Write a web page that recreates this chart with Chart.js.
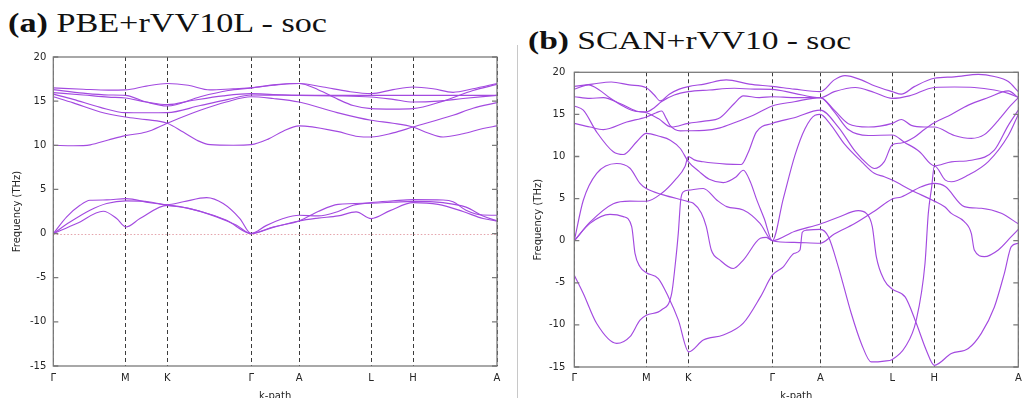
<!DOCTYPE html>
<html><head><meta charset="utf-8">
<script src="https://cdn.jsdelivr.net/npm/chart.js@4.4.1/dist/chart.umd.min.js"></script>
<style>
html,body{margin:0;padding:0;width:1022px;height:398px;overflow:hidden;background:#fff;}
canvas{position:absolute;top:0;}
#ca{left:0px}
#cb{left:518px}
.ttl{position:absolute;white-space:nowrap;font-family:"Liberation Serif","Times New Roman",serif;color:#111;line-height:1;transform-origin:0 0;}
#sep{position:absolute;left:517px;top:45px;width:1px;height:353px;background:#c8c8c8;}
</style></head><body>
<div id="ta" class="ttl"><b>(a)</b> PBE+rVV10L - soc</div>
<div id="tb" class="ttl"><b>(b)</b> SCAN+rVV10 - soc</div>
<div id="sep"></div>
<canvas id="ca" width="516" height="406"></canvas>
<canvas id="cb" width="504" height="406"></canvas>
<script>
// high-symmetry path
const kPos = [0, 0.72, 1.14, 1.98, 2.46, 3.18, 3.60, 4.44];
const kLabels = ['Γ', 'M', 'K', 'Γ', 'A', 'L', 'H', 'A'];

// (a) PBE+rVV10L bands: [k, THz]
const pbe1 = [[0,16.5],[0.3,16.35],[0.55,16.25],[0.72,16.27],[0.93,16.7],[1.14,17.0],[1.35,16.8],[1.567,16.27],[1.8,16.4],[1.98,16.5],[2.2,16.8],[2.46,17.0],[2.7,16.6],[2.95,16.1],[3.18,15.85],[3.4,16.3],[3.6,16.6],[3.8,16.4],[4.0,16.0],[4.2,16.4],[4.44,17.0]];
const pbe2 = [[0,16.3],[0.3,15.9],[0.55,15.7],[0.72,15.66],[0.93,14.9],[1.14,14.45],[1.47,15.5],[1.75,16.2],[1.98,16.5],[2.2,16.85],[2.46,17.0],[2.65,16.3],[2.85,15.2],[3.0,14.5],[3.18,14.15],[3.4,14.1],[3.6,14.15],[3.9,15.0],[4.2,16.2],[4.44,16.9]];
const pbe3 = [[0,15.96],[0.3,15.7],[0.55,15.45],[0.72,15.36],[0.93,14.9],[1.14,14.6],[1.4,15.1],[1.7,15.6],[1.98,15.85],[2.2,15.75],[2.46,15.66],[2.8,15.66],[3.18,15.66],[3.6,15.66],[4.0,15.66],[4.44,15.66]];
const pbe4 = [[0,15.8],[0.2,15.2],[0.47,14.3],[0.72,13.7],[0.93,13.68],[1.14,13.7],[1.47,14.5],[1.75,15.2],[1.98,15.7],[2.2,15.68],[2.46,15.66],[2.8,15.6],[3.18,15.47],[3.4,15.2],[3.6,14.9],[3.85,15.0],[4.1,15.3],[4.44,15.66]];
const pbe5 = [[0,10.0],[0.2,9.95],[0.37,10.05],[0.55,10.6],[0.72,11.1],[0.93,11.5],[1.14,12.5],[1.47,13.96],[1.73,14.9],[1.98,15.5],[2.2,15.3],[2.46,14.9],[2.84,13.7],[3.18,12.83],[3.4,12.5],[3.6,12.07],[3.75,11.4],[3.9,10.94],[4.1,11.3],[4.3,11.9],[4.44,12.2]];
const pbe6 = [[0,15.5],[0.2,14.8],[0.47,13.77],[0.72,13.2],[0.93,12.9],[1.14,12.5],[1.3,11.5],[1.45,10.5],[1.57,10.07],[1.8,10.0],[1.98,10.07],[2.15,10.7],[2.3,11.6],[2.46,12.2],[2.84,11.57],[3.05,11.0],[3.18,10.94],[3.4,11.4],[3.6,12.07],[4.0,13.4],[4.2,14.2],[4.44,14.83]];
const pbe7 = [[0,0],[0.134,1.9],[0.267,3.2],[0.367,3.77],[0.534,3.81],[0.727,3.96],[0.967,3.5],[1.14,3.28],[1.3,3.6],[1.534,4.07],[1.70,3.4],[1.867,1.7],[1.98,0],[2.13,0.9],[2.3,1.7],[2.46,2.08],[2.65,2.0],[2.85,2.5],[3.0,3.2],[3.18,3.5],[3.4,3.7],[3.6,3.85],[3.9,3.8],[4.0,3.6],[4.13,2.64],[4.3,2.1],[4.44,2.08]];
const pbe8 = [[0,0],[0.167,1.3],[0.367,2.64],[0.534,3.4],[0.727,3.7],[0.967,3.58],[1.14,3.2],[1.367,2.83],[1.634,1.89],[1.834,0.94],[1.98,0],[2.2,0.75],[2.46,1.43],[2.65,2.5],[2.85,3.3],[3.18,3.45],[3.4,3.55],[3.6,3.65],[3.9,3.5],[4.13,3.0],[4.3,2.0],[4.44,1.43]];
const pbe9 = [[0,0],[0.234,1.13],[0.5,2.53],[0.634,1.7],[0.727,0.75],[0.867,1.7],[1.14,3.2],[1.467,2.53],[1.734,1.5],[1.98,0],[2.2,0.7],[2.46,1.43],[2.65,1.75],[2.85,2.0],[3.03,2.45],[3.18,1.7],[3.37,2.6],[3.6,3.5],[3.85,3.3],[4.1,2.5],[4.3,1.7],[4.44,1.43]];

// (b) SCAN+rVV10 bands: [k, THz]
const scan1 = [[0,18.33],[0.18,18.6],[0.37,18.85],[0.55,18.5],[0.72,18.17],[0.8,17.3],[0.86,16.6],[0.95,17.4],[1.05,18.0],[1.14,18.3],[1.3,18.6],[1.52,19.1],[1.75,18.6],[1.98,18.33],[2.2,18.0],[2.46,17.7],[2.6,19.1],[2.707,19.6],[2.87,19.1],[3.0,18.4],[3.18,17.7],[3.27,17.4],[3.4,18.3],[3.6,19.3],[3.8,19.45],[4.04,19.76],[4.2,19.5],[4.34,18.9],[4.44,17.7]];
const scan2 = [[0,17.98],[0.14,18.5],[0.25,17.9],[0.35,17.0],[0.5,15.9],[0.62,15.35],[0.72,15.3],[0.8,15.8],[0.87,16.5],[1.0,17.3],[1.14,17.7],[1.35,17.9],[1.6,18.1],[1.8,18.0],[1.98,17.98],[2.2,17.5],[2.46,17.0],[2.6,17.7],[2.81,18.2],[3.0,17.6],[3.18,16.9],[3.35,17.2],[3.6,18.2],[3.8,18.25],[4.0,18.2],[4.2,17.9],[4.34,17.5],[4.44,17.0]];
const scan3 = [[0,17.1],[0.157,16.9],[0.29,17.0],[0.457,16.3],[0.62,15.4],[0.72,15.2],[0.84,14.5],[0.97,13.5],[1.14,13.94],[1.3,14.2],[1.457,14.6],[1.6,16.3],[1.69,17.2],[1.85,17.0],[1.98,17.1],[2.2,17.0],[2.46,17.0],[2.6,15.5],[2.74,13.9],[2.94,13.5],[3.18,13.94],[3.27,14.4],[3.37,13.7],[3.5,13.5],[3.6,13.5],[3.8,12.5],[3.97,12.16],[4.1,12.6],[4.24,14.3],[4.36,16.0],[4.44,17.0]];
const scan4 = [[0,16.0],[0.09,15.5],[0.224,12.9],[0.39,10.56],[0.49,10.24],[0.624,11.75],[0.72,12.74],[0.85,12.4],[0.96,11.94],[1.06,10.95],[1.14,9.4],[1.25,8.2],[1.35,7.3],[1.49,6.9],[1.62,7.6],[1.69,8.37],[1.76,7.0],[1.82,5.0],[1.9,2.6],[1.98,0],[2.09,5.0],[2.207,10.16],[2.307,13.3],[2.407,14.9],[2.46,15.0],[2.55,14.0],[2.707,11.4],[2.874,9.37],[3.0,8.0],[3.1,7.6],[3.18,7.2],[3.37,6.0],[3.6,4.7],[3.707,4.0],[3.77,3.25],[3.9,2.26],[3.97,0.87],[4.0,-1.1],[4.1,-1.9],[4.24,-1.1],[4.37,0.48],[4.44,1.35]];
const scan5 = [[0,13.93],[0.157,13.5],[0.29,13.2],[0.524,14.1],[0.72,14.7],[0.82,15.2],[0.873,15.4],[0.92,14.5],[0.957,13.7],[1.06,13.05],[1.14,13.06],[1.3,13.1],[1.457,13.4],[1.6,14.0],[1.79,14.9],[1.98,16.0],[2.2,16.5],[2.46,17.0],[2.6,15.3],[2.74,13.2],[2.94,12.5],[3.18,12.55],[3.3,11.7],[3.45,10.6],[3.6,8.9],[3.77,9.37],[3.97,9.56],[4.2,10.75],[4.34,13.7],[4.44,15.5]];
const scan6 = [[0,0],[0.09,4.8],[0.224,8.0],[0.424,9.17],[0.557,8.6],[0.657,6.8],[0.72,6.19],[0.89,5.44],[1.14,4.64],[1.19,4.44],[1.27,3.3],[1.32,1.67],[1.37,-1.1],[1.457,-2.3],[1.59,-3.3],[1.69,-2.3],[1.86,0.28],[1.92,0.4],[1.98,0],[2.2,1.1],[2.46,1.98],[2.64,2.78],[2.84,3.57],[2.92,3.25],[2.98,1.67],[3.02,-1.9],[3.1,-4.7],[3.18,-5.75],[3.31,-6.7],[3.42,-9.8],[3.52,-13.0],[3.6,-14.8],[3.77,-13.4],[3.94,-12.8],[4.07,-11.0],[4.2,-7.9],[4.3,-3.9],[4.37,-0.7],[4.44,-0.3]];
const scan7 = [[0,0],[0.157,2.2],[0.39,4.4],[0.557,4.7],[0.72,4.68],[0.874,5.63],[1.007,7.2],[1.107,8.8],[1.14,10.0],[1.2,9.6],[1.29,9.37],[1.52,9.1],[1.67,9.05],[1.74,10.5],[1.82,12.9],[1.98,13.93],[2.2,14.6],[2.46,15.5],[2.64,13.5],[2.81,10.6],[2.94,9.0],[3.0,8.57],[3.1,9.4],[3.18,11.4],[3.27,11.6],[3.4,12.3],[3.5,13.2],[3.6,14.0],[3.77,15.0],[3.94,16.1],[4.14,17.0],[4.34,17.8],[4.44,17.0]];
const scan8 = [[0,0],[0.157,2.06],[0.357,3.13],[0.49,2.86],[0.574,1.67],[0.607,-1.5],[0.657,-3.1],[0.72,-3.8],[0.84,-4.5],[0.94,-6.65],[1.04,-9.4],[1.144,-13.2],[1.29,-11.8],[1.49,-11.2],[1.69,-9.8],[1.86,-6.7],[1.98,-4.1],[2.09,-3.1],[2.2,-1.5],[2.257,-1.1],[2.28,1.0],[2.32,1.25],[2.46,1.35],[2.54,0.5],[2.64,-3.1],[2.77,-8.65],[2.87,-12.2],[2.97,-14.4],[3.1,-14.3],[3.18,-14.1],[3.31,-12.6],[3.42,-9.4],[3.507,-2.7],[3.54,3.25],[3.574,6.4],[3.6,8.9],[3.71,7.2],[3.77,7.0],[3.94,7.8],[4.14,9.4],[4.34,12.5],[4.44,15.0]];
const scan9 = [[0,-4.1],[0.09,-6.27],[0.224,-9.84],[0.424,-12.2],[0.557,-11.4],[0.657,-9.44],[0.72,-8.85],[0.874,-8.2],[0.974,-6.25],[1.007,-3.1],[1.04,0.9],[1.064,4.83],[1.09,5.8],[1.144,6.0],[1.29,6.2],[1.424,4.84],[1.524,4.05],[1.69,3.65],[1.857,2.06],[1.98,0],[2.2,-0.2],[2.46,-0.3],[2.6,0.8],[2.8,2.0],[3.0,3.5],[3.18,4.96],[3.27,5.2],[3.47,6.4],[3.6,6.8],[3.71,6.43],[3.9,4.05],[4.07,3.85],[4.27,3.25],[4.44,2.0]];

const pbeBands = [pbe1, pbe2, pbe3, pbe4, pbe5, pbe6, pbe7, pbe8, pbe9];
const scanBands = [scan1, scan2, scan3, scan4, scan5, scan6, scan7, scan8, scan9];

const LINE = 'rgb(163,74,224)';
const TXT = '#262626';
const SANS = '"DejaVu Sans", sans-serif';

const framePlugin = {
  id: 'frame',
  beforeDatasetsDraw(chart, args, opts) {
    if (!opts.zero) return;
    const {ctx, chartArea: a, scales: {y}} = chart;
    const py = Math.round(y.getPixelForValue(0)) + 0.5;
    ctx.save();
    ctx.strokeStyle = '#e4a2aa'; ctx.lineWidth = 1; ctx.setLineDash([1.5, 2]);
    ctx.beginPath(); ctx.moveTo(a.left, py); ctx.lineTo(a.right, py); ctx.stroke();
    ctx.restore();
  },
  afterDraw(chart) {
    const {ctx, chartArea: a, scales: {y}} = chart;
    ctx.save();
    ctx.strokeStyle = '#7a7a7a'; ctx.lineWidth = 1.3;
    ctx.strokeRect(a.left, a.top, a.right - a.left, a.bottom - a.top);
    ctx.beginPath();
    y.ticks.forEach(t => {
      const py = y.getPixelForValue(t.value);
      ctx.moveTo(a.left, py); ctx.lineTo(a.left + 5, py);
      ctx.moveTo(a.right, py); ctx.lineTo(a.right - 5, py);
    });
    ctx.stroke();
    ctx.restore();
  }
};

function makeChart(id, bands, g) {
  return new Chart(document.getElementById(id), {
    type: 'line',
    data: {
      datasets: bands.map(b => ({
        data: b.map(p => ({x: p[0], y: p[1]})),
        borderColor: LINE, borderWidth: 1.15, pointRadius: 0, fill: false,
        cubicInterpolationMode: 'monotone'
      }))
    },
    options: {
      responsive: false, animation: false, devicePixelRatio: 1, events: [],
      layout: {padding: {left: 0, right: g.padRight, top: g.padTop, bottom: 0}},
      plugins: {legend: {display: false}, tooltip: {enabled: false}, frame: {zero: g.zero}},
      scales: {
        x: {
          type: 'linear', min: 0, max: 4.44,
          afterBuildTicks: s => { s.ticks = kPos.map(v => ({value: v})); },
          afterFit: s => { s.height = g.xH; s.paddingLeft = 0; s.paddingRight = 0; },
          ticks: {autoSkip: false, maxRotation: 0, padding: g.xTickPad, color: TXT,
                  font: {family: SANS, size: 10}, callback: (v, i) => kLabels[i]},
          grid: {display: true, color: '#3c3c3c', lineWidth: 1, drawTicks: false},
          border: {display: false, dash: [4, 3]},
          title: {display: true, text: 'k-path', color: TXT, font: {family: SANS, size: 10},
                  padding: {top: 0, bottom: 4}}
        },
        y: {
          type: 'linear', min: -15, max: 20,
          afterFit: s => { s.width = g.yW; s.paddingTop = 0; s.paddingBottom = 0; },
          ticks: {stepSize: 5, padding: g.yTickPad, color: TXT, font: {family: SANS, size: 10}},
          grid: {display: false, drawTicks: false},
          border: {display: false},
          title: {display: true, text: 'Frequency (THz)', color: TXT, font: {family: SANS, size: 10},
                  padding: {top: g.yTitlePad, bottom: 0}}
        }
      }
    },
    plugins: [framePlugin]
  });
}

makeChart('ca', pbeBands, {padRight: 19, padTop: 57, xH: 40, yW: 53.3, xTickPad: 6, yTickPad: 7, yTitlePad: 11, zero: true});
makeChart('cb', scanBands, {padRight: 3.7, padTop: 72.3, xH: 39, yW: 56.3, xTickPad: 5, yTickPad: 9, yTitlePad: 14, zero: false});

function placeTitle(id, left, baseline, capH, width) {
  const el = document.getElementById(id);
  el.style.fontSize = (capH / 0.662) + 'px';
  el.style.left = left + 'px';
  el.style.top = '0px';
  el.style.transform = 'none';
  const w0 = el.getBoundingClientRect().width;
  const probe = document.createElement('span');
  probe.style.cssText = 'display:inline-block;width:0;height:0;vertical-align:baseline;';
  el.appendChild(probe);
  const bl = probe.getBoundingClientRect().top - el.getBoundingClientRect().top;
  el.style.top = (baseline - bl) + 'px';
  el.style.transform = 'scaleX(' + (width / w0) + ')';
}
placeTitle('ta', 7.5, 31.7, 17.7, 319);
placeTitle('tb', 528.3, 49.0, 16.8, 323);
</script>
</body></html>
